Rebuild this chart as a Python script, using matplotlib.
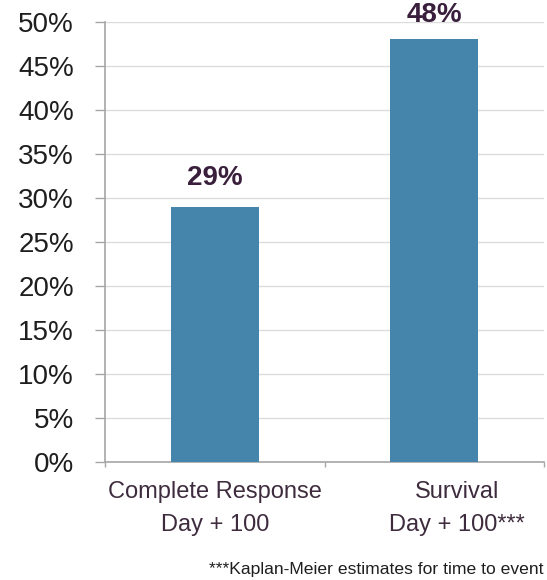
import matplotlib
matplotlib.use("Agg")
import matplotlib.pyplot as plt
import matplotlib.transforms as mtransforms
from matplotlib.ticker import FixedLocator, FuncFormatter

categories = ["Complete Response\nDay + 100", "Survival\nDay + 100***"]
values = [29, 48]
value_labels = ["29%", "48%"]
yticks = [0, 5, 10, 15, 20, 25, 30, 35, 40, 45, 50]
footnote = "***Kaplan-Meier estimates for time to event"

BAR = "#4584ab"
VALUE_TXT = "#3a1f3c"
CAT_TXT = "#3e2c3e"
AXIS_GRAY = "#a6a6a6"
GRID = "#dcdcdc"

FONT = ["Liberation Sans", "DejaVu Sans"]

fig = plt.figure(figsize=(5.47, 5.80), dpi=100)
ax = fig.add_axes([0.192, 0.2034, 0.8025, 0.7592])

x = list(range(len(categories)))
ax.bar(x, values, width=0.4, color=BAR, zorder=3)

ax.set_xlim(-0.5, len(categories) - 0.5)
ax.set_ylim(0, 50)

ax.set_yticks(yticks)
ax.yaxis.set_major_formatter(FuncFormatter(lambda v, p: f"{int(v)}%"))
for lab in ax.get_yticklabels():
    lab.set_fontfamily(FONT)
    lab.set_fontsize(20)
    lab.set_color("#1e1e1e")
ax.tick_params(axis="y", length=7.5, width=1.0, color=AXIS_GRAY, pad=15)
ax.yaxis.grid(True, color=GRID, linewidth=1.0, zorder=0)
ax.set_axisbelow(True)

# category boundaries carry the tick marks, labels sit at the centres
ax.set_xticks(x)
ax.set_xticklabels(categories, fontfamily=FONT, fontsize=17, color=CAT_TXT,
                   linespacing=1.6)
ax.tick_params(axis="x", which="major", length=0, pad=14)
ax.xaxis.set_minor_locator(FixedLocator([i - 0.5 for i in range(len(categories) + 1)]))
ax.tick_params(axis="x", which="minor", length=3.5, width=1.0, color=AXIS_GRAY)
labs = ax.get_xticklabels()
labs[1].set_transform(labs[1].get_transform() +
                      mtransforms.ScaledTranslation(23 / 100, 0, fig.dpi_scale_trans))

for s in ("top", "right"):
    ax.spines[s].set_visible(False)
for s in ("left", "bottom"):
    ax.spines[s].set_color(AXIS_GRAY)
    ax.spines[s].set_linewidth(1.2)

label_offsets = [11, 8]
for xi, v, t, off in zip(x, values, value_labels, label_offsets):
    ax.annotate(t, (xi, v), xytext=(0, off), textcoords="offset points",
                ha="center", va="bottom", fontsize=20, fontweight="bold",
                fontfamily=FONT, color=VALUE_TXT, annotation_clip=False)

fig.text(0.993, 0.0103, footnote, ha="right", va="baseline",
         fontsize=12.6, fontfamily=FONT, color="#1e1e1e")

fig.savefig("out.png", dpi=100)
